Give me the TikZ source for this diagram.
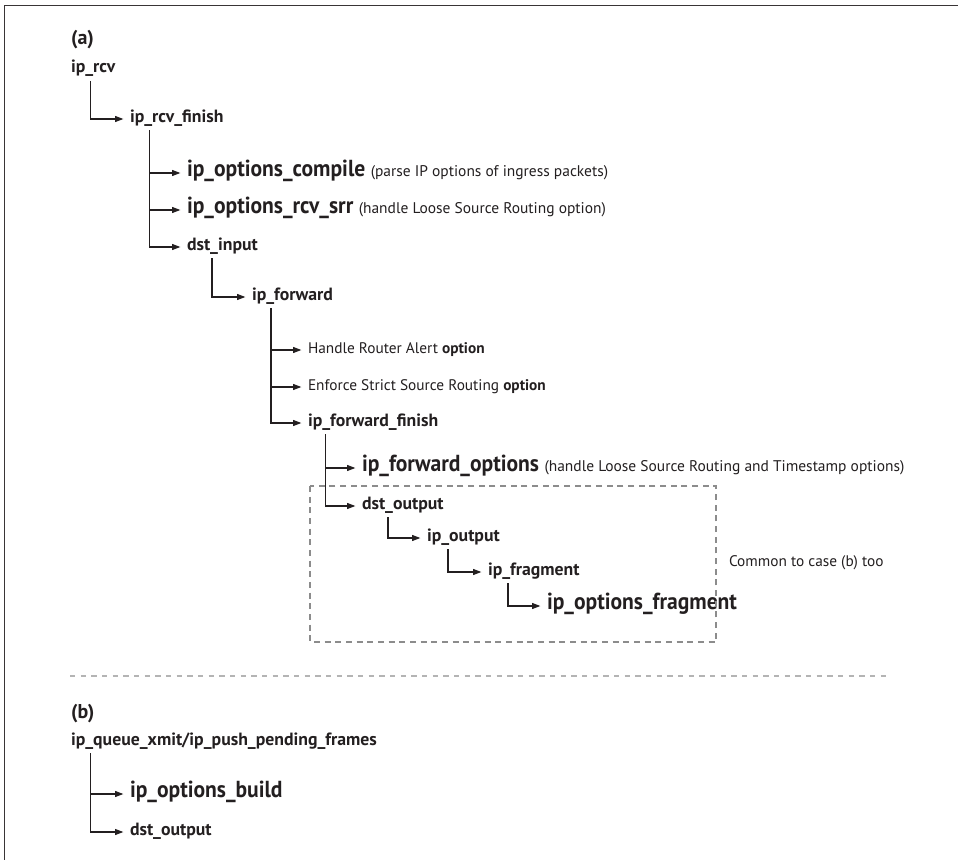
\documentclass[tikz,border=0pt]{standalone}
\usepackage{fontspec}
\setmainfont{PT Sans}
\newfontfamily\bigfont{PT Sans}[FakeStretch=0.93]
\usetikzlibrary{arrows.meta}
\definecolor{ink}{HTML}{231F20}
\definecolor{boxgray}{HTML}{8C8C8C}
\definecolor{sepgray}{HTML}{B4B4B4}
\newcommand{\smallnote}[1]{{\rmfamily\mdseries\fontsize{11.6}{14}\selectfont #1}}
\begin{document}
\begin{tikzpicture}[x=0.75pt,y=-0.75pt,
  lbl/.style={anchor=mid west, inner sep=0pt, outer sep=0pt, text=ink,
              font=\fontsize{13.3}{16}\selectfont\bfseries},
  big/.style={lbl, font=\bigfont\fontsize{17.4}{21}\selectfont\bfseries},
  note/.style={lbl, font=\fontsize{11.5}{14}\selectfont},
  head/.style={lbl, font=\fontsize{15}{18}\selectfont\bfseries},
  conn/.style={draw=ink, line width=0.8pt,
               -{Triangle[length=6.2pt,width=4.5pt]}, shorten >=5pt},
  framel/.style={draw=ink!90, line width=1.4pt},
  boxl/.style={draw=boxgray, line width=0.8pt, dash pattern=on 4.5pt off 3.5pt},
  sepl/.style={draw=sepgray, line width=0.8pt, dash pattern=on 4pt off 4pt}]
\useasboundingbox (0,0) rectangle (958,860);
% frame
\draw[framel] (4.5,860) -- (4.5,5.5) -- (958,5.5);

% (a)
\node[head] (la) at (71,41.5) {(a)};
\node[lbl] (ipRcv) at (71,69.5) {ip\_rcv};
\node[lbl] (ipRcvFinish) at (130,119) {ip\_rcv\_finish};
\node[big] (optCompile) at (187,173) {ip\_options\_compile \smallnote{(parse IP options of ingress packets)}};
\node[big] (optRcvSrr) at (187,210) {ip\_options\_rcv\_srr \smallnote{(handle Loose Source Routing option)}};
\node[lbl] (dstInput) at (187,247) {dst\_input};
\node[lbl] (ipForward) at (252,297) {ip\_forward};
\node[note] (routerAlert) at (308,350) {Handle Router Alert \textbf{option}};
\node[note] (strictSR) at (308,387) {Enforce Strict Source Routing \textbf{option}};
\node[lbl] (fwdFinish) at (308,423) {ip\_forward\_finish};
\node[big] (fwdOptions) at (362,468) {ip\_forward\_options \smallnote{(handle Loose Source Routing and Timestamp options)}};
\node[lbl] (dstOutput) at (362,506) {dst\_output};
\node[lbl] (ipOutput) at (427,538) {ip\_output};
\node[lbl] (ipFragment) at (488,572) {ip\_fragment};
\node[big] (optFragment) at (547,606) {ip\_options\_fragment};
\node[note] (common) at (729,563) {Common to case (b) too};

% common box
\draw[boxl] (310,486) rectangle (716,642);
% separator
\draw[sepl] (70,676) -- (887,676);

% (b)
\node[head] (lb) at (71,715) {(b)};
\node[lbl] (ipQueue) at (71,742) {ip\_queue\_xmit/ip\_push\_pending\_frames};
\node[big] (optBuild) at (130,794) {ip\_options\_build};
\node[lbl] (dstOutputB) at (130,832) {dst\_output};

% connectors (a)
\draw[conn] ([shift={(19.5,4)}]ipRcv.south west) |- (ipRcvFinish.mid west);
\draw[conn] ([shift={(19.5,4)}]ipRcvFinish.south west) |- (optCompile.mid west);
\draw[conn] ([shift={(19.5,4)}]ipRcvFinish.south west) |- (optRcvSrr.mid west);
\draw[conn] ([shift={(19.5,4)}]ipRcvFinish.south west) |- (dstInput.mid west);
\draw[conn] ([shift={(25,4)}]dstInput.south west) |- (ipForward.mid west);
\draw[conn] ([shift={(19,4)}]ipForward.south west) |- (routerAlert.mid west);
\draw[conn] ([shift={(19,4)}]ipForward.south west) |- (strictSR.mid west);
\draw[conn] ([shift={(19,4)}]ipForward.south west) |- (fwdFinish.mid west);
\draw[conn] ([shift={(17.7,4)}]fwdFinish.south west) |- (fwdOptions.mid west);
\draw[conn] ([shift={(17.7,4)}]fwdFinish.south west) |- (dstOutput.mid west);
\draw[conn] ([shift={(26,4)}]dstOutput.south west) |- (ipOutput.mid west);
\draw[conn] ([shift={(21,4)}]ipOutput.south west) |- (ipFragment.mid west);
\draw[conn] ([shift={(20,4)}]ipFragment.south west) |- (optFragment.mid west);

% connectors (b)
\draw[conn] ([shift={(19.7,4)}]ipQueue.south west) |- (optBuild.mid west);
\draw[conn] ([shift={(19.7,4)}]ipQueue.south west) |- (dstOutputB.mid west);
\end{tikzpicture}
\end{document}
